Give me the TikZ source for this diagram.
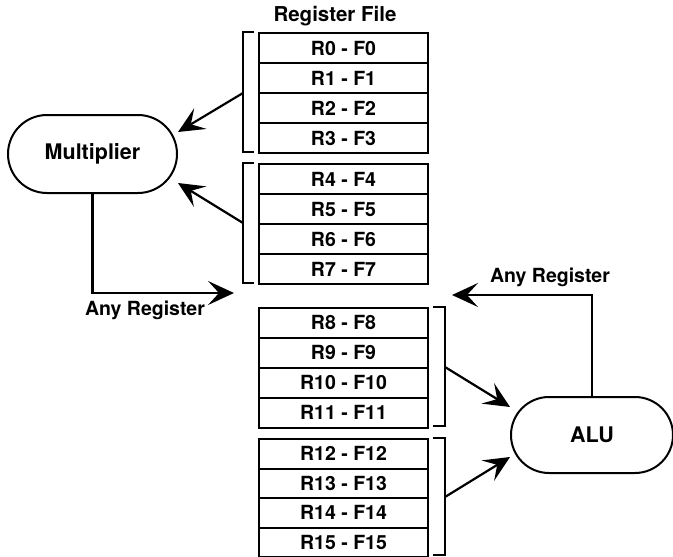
\documentclass[tikz,border=0pt]{standalone}
\usepackage{fontspec}
\setmainfont{TeX Gyre Heros}
\usetikzlibrary{arrows.meta,shapes.misc}
\begin{document}
\begin{tikzpicture}[x=1pt,y=-1pt, line width=2.2pt,
 reg/.style={draw, line width=2.2pt, minimum width=169pt, minimum height=30pt, inner sep=0pt, font=\fontsize{19.5}{19.5}\selectfont\bfseries, anchor=north},
 unit/.style={draw, rounded rectangle, line width=2pt, font=\fontsize{21.5}{21.5}\selectfont\bfseries, inner sep=0pt},
 arr/.style={-{Stealth[length=26pt,width=24pt,inset=11pt]}, line width=2.2pt},
 lbl/.style={font=\fontsize{19.5}{19.5}\selectfont\bfseries},
 brk/.style={line width=2.2pt}]
\useasboundingbox (0,0) rectangle (673,557);
\node[font=\fontsize{20.5}{20.5}\selectfont\bfseries] (title) at (335,16) {Register File};
\foreach \i/\y in {0/32,1/62,2/92,3/122,4/163,5/193,6/223,7/253}
  \node[reg] (r\i) at (343.5,\y) {R\i{} - F\i};
\foreach \i/\y in {8/307,9/337,10/367,11/397,12/438,13/467.5,14/497,15/526.5}
  \node[reg, minimum height=29.5pt] (r\i) at (343.5,\y) {R\i{} - F\i};
% brackets
\draw[brk] (254,32) -- (243,32) -- (243,152) -- (254,152);
\draw[brk] (254,163) -- (243,163) -- (243,283) -- (254,283);
\draw[brk] (433,307) -- (445,307) -- (445,426) -- (433,426);
\draw[brk] (433,438) -- (445,438) -- (445,555) -- (433,555);
\coordinate (b1) at (243,93);
\coordinate (b2) at (243,223);
\coordinate (b3) at (445,367);
\coordinate (b4) at (445,497);
% units
\node[unit, minimum width=169pt, minimum height=78pt] (mult) at (92.5,154) {Multiplier};
\node[unit, minimum width=162pt, minimum height=76pt] (alu) at (592,435) {ALU};
\coordinate (m1) at (178,132);
\coordinate (m2) at (178,183);
\coordinate (a1) at (510,407);
\coordinate (a2) at (510,457);
\draw[arr] (b1) -- (m1);
\draw[arr] (b2) -- (m2);
\draw[arr] (b3) -- (a1);
\draw[arr] (b4) -- (a2);
\coordinate (mtip) at (234,293);
\coordinate (atip) at (452,295);
\draw[arr] (mult.south) |- (mtip);
\draw[arr] (alu.north) |- (atip);
\node[lbl] (lab1) at (145,310) {Any Register};
\node[lbl] (lab2) at (550,277) {Any Register};
\end{tikzpicture}
\end{document}
